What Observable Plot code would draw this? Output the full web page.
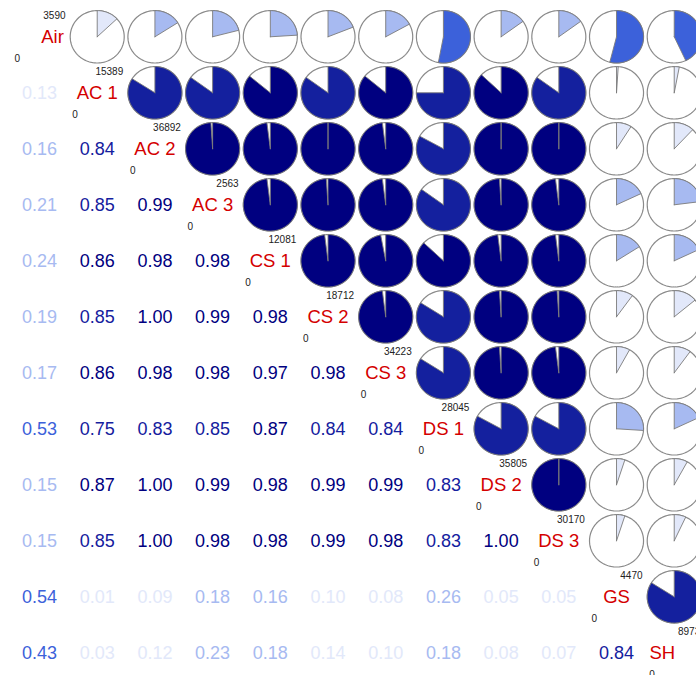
<!DOCTYPE html>
<html><head><meta charset="utf-8">
<script src="https://cdn.jsdelivr.net/npm/d3@7"></script>
<script src="https://cdn.jsdelivr.net/npm/@observablehq/plot@0.6"></script>
<style>html,body{margin:0;padding:0;background:#fff;overflow:hidden;} #chart svg{display:block}</style>
</head><body><div id="chart"></div>
<script>
// Variable names on the diagonal
const labels = ["Air","AC 1","AC 2","AC 3","CS 1","CS 2","CS 3","DS 1","DS 2","DS 3","GS","SH"];
// Max / min value shown in each diagonal cell
const maxValues = [3590,15389,36892,2563,12081,18712,34223,28045,35805,30170,4470,8973];
const minValues = [0,0,0,0,0,0,0,0,0,0,0,0];
// Lower triangle of the correlation matrix (row i, columns 0..i-1)
const corrRows = [
  [],
  [0.13],
  [0.16,0.84],
  [0.21,0.85,0.99],
  [0.24,0.86,0.98,0.98],
  [0.19,0.85,1.00,0.99,0.98],
  [0.17,0.86,0.98,0.98,0.97,0.98],
  [0.53,0.75,0.83,0.85,0.87,0.84,0.84],
  [0.15,0.87,1.00,0.99,0.98,0.99,0.99,0.83],
  [0.15,0.85,1.00,0.98,0.98,0.99,0.98,0.83,1.00],
  [0.54,0.01,0.09,0.18,0.16,0.10,0.08,0.26,0.05,0.05],
  [0.43,0.03,0.12,0.23,0.18,0.14,0.10,0.18,0.08,0.07,0.84]
];
// Colour bins (positive half of red-salmon-white-royalblue-navy, 14 bins over [-1,1])
const binEdges = [1/7,2/7,3/7,4/7,5/7,6/7];
const binColors = ["#E2E8FA","#A7BAF1","#6D8CE8","#3C61DA","#2841BC","#14209E","#000080"];

// style: horizontal nudge (px) of some diagonal labels
const labelNudge = {"Air": 13, "SH": -12};

const n = labels.length;
const lower = [], upper = [], diag = [];
for (let i = 0; i < n; i++) {
  diag.push({i, label: labels[i], max: String(maxValues[i]), min: String(minValues[i])});
  for (let j = 0; j < n; j++) {
    if (i > j) lower.push({row: i, col: j, r: corrRows[i][j]});
    else if (i < j) upper.push({row: i, col: j, r: corrRows[j][i]});
  }
}

const R = 0.468;
const ring = [], wedges = [];
upper.forEach((c, k) => {
  const nr = 120;
  for (let s = 0; s <= nr; s++) {
    const t = 2 * Math.PI * s / nr;
    ring.push({id: k, x: c.col + R * Math.sin(t), y: c.row - R * Math.cos(t)});
  }
  const m = Math.max(2, Math.ceil(c.r * 120));
  wedges.push({id: k, x: c.col, y: c.row, r: c.r});
  for (let s = 0; s <= m; s++) {
    const t = 2 * Math.PI * c.r * s / m;
    wedges.push({id: k, x: c.col + R * Math.sin(t), y: c.row - R * Math.cos(t), r: c.r});
  }
  wedges.push({id: k, x: c.col, y: c.row, r: c.r});
});

const plainLabels = diag.filter(d => !(d.label in labelNudge));
const nudged = diag.filter(d => d.label in labelNudge);

const chart = Plot.plot({
  width: 696, height: 675, margin: 0,
  x: {domain: [-0.676, 11.386], range: [0, 696], axis: null},
  y: {domain: [-0.648, 11.405], range: [0, 675], axis: null},
  color: {type: "threshold", domain: binEdges, range: binColors},
  style: {fontFamily: "'Liberation Sans', Arial, Helvetica, sans-serif", background: "#fff"},
  marks: [
    Plot.line(ring, {x: "x", y: "y", z: "id", fill: "white", stroke: "#8a8a8a", strokeWidth: 1.2}),
    Plot.line(wedges, {x: "x", y: "y", z: "id", fill: "r", stroke: "#7a7a7a", strokeWidth: 0.9}),
    Plot.text(lower, {x: "col", y: "row", text: d => d.r.toFixed(2), fill: "r", fontSize: 18}),
    Plot.text(plainLabels, {x: "i", y: "i", text: "label", fill: "#d40000", fontSize: 18.5}),
    ...nudged.map(d => Plot.text([d], {x: "i", y: "i", text: "label", fill: "#d40000", fontSize: 18.5, dx: labelNudge[d.label]})),
    Plot.text(diag, {x: "i", y: "i", text: "max", textAnchor: "end", dx: 26, dy: -21, fontSize: 10, fill: "#222"}),
    Plot.text(diag, {x: "i", y: "i", text: "min", textAnchor: "start", dx: -25, dy: 22, fontSize: 10, fill: "#222"})
  ]
});
document.getElementById("chart").appendChild(chart);
</script>
</body></html>
